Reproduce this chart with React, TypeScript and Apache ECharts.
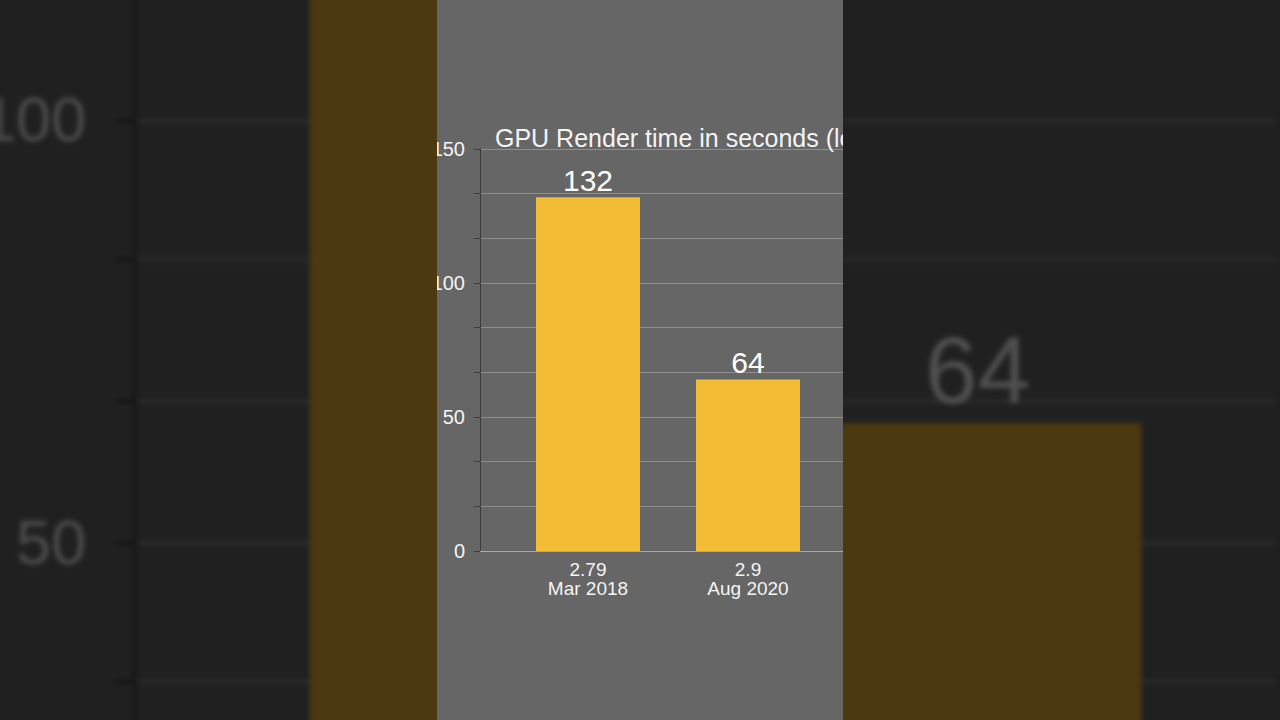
import React, { useEffect, useRef } from "react";
import * as echarts from "echarts";

const versions = ["2.79", "2.9"];
const releaseDates = ["Mar 2018", "Aug 2020"];
const renderSeconds = [132, 64];
const yTicks = { min: 0, max: 150, interval: 50 };

const FONT = "'Liberation Sans', Arial, sans-serif";

// backdrop: the zoomed copy behind the panel, where only the middle labels land on screen
const Panel: React.FC<{ backdrop?: boolean }> = ({ backdrop = false }) => {
  const chartRef = useRef<HTMLDivElement>(null);

  useEffect(() => {
    if (!chartRef.current) return;
    const chart = echarts.init(chartRef.current, undefined, { renderer: "svg" });

    const option: echarts.EChartsOption = {
      animation: false,
      textStyle: { fontFamily: FONT },
      title: {
        show: !backdrop,
        text: "GPU Render time in seconds (lower is better)",
        left: 93,
        top: 120,
        textStyle: { color: "#f4f4f4", fontSize: 25, fontWeight: "normal", fontFamily: FONT },
      },
      grid: [
        { left: 83, top: 149, height: 402, width: 520 },
        { left: 111, top: 149, height: 402, width: 320 },
      ],
      xAxis: [
        {
          type: "category",
          gridIndex: 0,
          data: releaseDates,
          axisLine: { lineStyle: { color: "#a8a8a8", width: 1 } },
          axisTick: { show: false },
          axisLabel: { show: false },
        },
        {
          type: "category",
          gridIndex: 1,
          data: releaseDates,
          axisLine: { show: false },
          axisTick: { show: false },
          axisLabel: {
            show: !backdrop,
            color: "#f4f4f4",
            fontSize: 19,
            lineHeight: 19,
            margin: 9,
            fontFamily: FONT,
            formatter: (value: string, idx: number) => versions[idx] + "\n" + value,
          },
        },
      ],
      yAxis: [
        {
          type: "value",
          gridIndex: 0,
          min: yTicks.min,
          max: yTicks.max,
          interval: yTicks.interval,
          axisLine: { show: true, lineStyle: { color: "#3c3c3c", width: 1 } },
          axisTick: { show: true, length: 6, lineStyle: { color: "#3c3c3c" } },
          minorTick: { show: true, splitNumber: 3, length: 6, lineStyle: { color: "#3c3c3c" } },
          splitLine: { lineStyle: { color: "#8e8e8e", width: 1 } },
          minorSplitLine: { show: true, lineStyle: { color: "#8e8e8e", width: 1 } },
          axisLabel: {
            color: "#f4f4f4",
            fontSize: 20,
            margin: 15,
            fontFamily: FONT,
            showMinLabel: !backdrop,
            showMaxLabel: !backdrop,
          },
        },
        {
          type: "value",
          gridIndex: 1,
          min: yTicks.min,
          max: yTicks.max,
          show: false,
        },
      ],
      series: [
        {
          type: "bar",
          xAxisIndex: 1,
          yAxisIndex: 1,
          data: renderSeconds,
          barWidth: 104,
          itemStyle: { color: "#f3bc35" },
          label: {
            show: true,
            position: "top",
            distance: 2,
            color: "#ffffff",
            fontSize: 30,
            fontFamily: FONT,
            formatter: (p: any) => (backdrop && p.dataIndex === 0 ? "" : String(p.value)),
          },
        },
      ],
    };

    chart.setOption(option);
    return () => {
      chart.dispose();
    };
  }, [backdrop]);

  return (
    <div
      style={{
        position: "relative",
        width: 406,
        height: 720,
        overflow: "hidden",
        background: "#666666",
      }}
    >
      <div
        ref={chartRef}
        style={{ position: "absolute", left: -40, top: 0, width: 600, height: 720 }}
      />
    </div>
  );
};

const App: React.FC = () => {
  const scale = 3.15;
  return (
    <div
      style={{
        position: "fixed",
        left: 0,
        top: 0,
        width: 1280,
        height: 720,
        overflow: "hidden",
        background: "#1f1f1f",
      }}
    >
      {/* blurred, darkened zoom of the same panel behind */}
      <div
        style={{
          position: "absolute",
          left: -2.5,
          top: -771.6,
          transformOrigin: "0 0",
          transform: `scale(${scale})`,
          filter: "brightness(0.31) blur(0.8px)",
        }}
      >
        <Panel backdrop />
      </div>
      <div style={{ position: "absolute", left: 437, top: 0 }}>
        <Panel />
      </div>
    </div>
  );
};

export default App;
